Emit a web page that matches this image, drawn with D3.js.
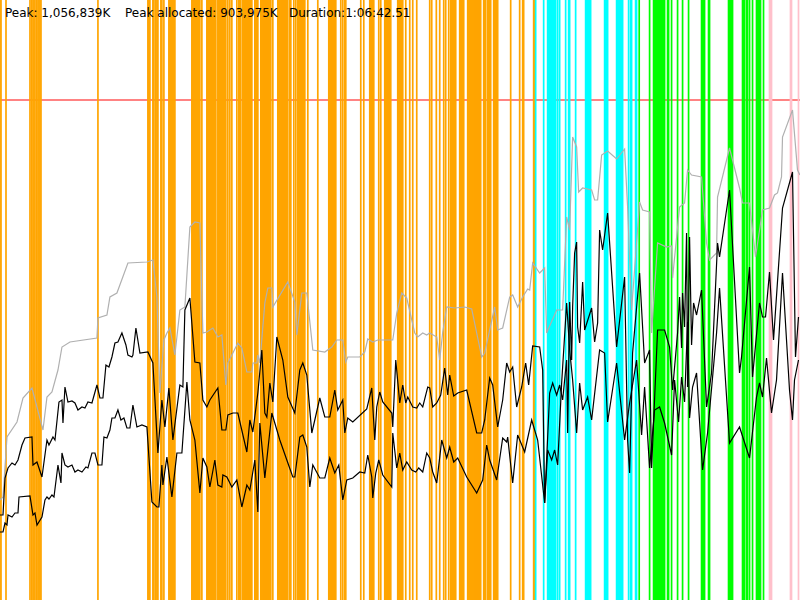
<!DOCTYPE html>
<html>
<head>
<meta charset="utf-8">
<script src="https://cdn.jsdelivr.net/npm/d3@7"></script>
<style>
  html, body { margin: 0; padding: 0; background: #fff; }
  svg { display: block; }
  text { font-family: "DejaVu Sans", sans-serif; font-size: 12px; fill: #000; }
</style>
</head>
<body>
<svg id="chart" width="800" height="600"></svg>
<script>
// run length in seconds (1:06:42.51) and heap limit in MB
const duration = 4002.51;
const heapMax = 1000;

// GC events, seconds since start
const youngGC = [0, 5, 30, 150, 158, 165, 170, 175, 183, 190, 195, 200, 205, 490,
  740, 745, 750, 765, 770, 778, 785, 790, 805, 810, 820, 845, 850, 855, 860, 865, 870, 875,
  960, 965, 970, 975, 980, 985, 990, 995, 1000, 1010,
  1035, 1040, 1045, 1050, 1055, 1060, 1065, 1070, 1075, 1080,
  1090, 1095, 1100, 1105, 1110, 1115, 1120, 1125, 1130,
  1140, 1150, 1160, 1185, 1195, 1200, 1205,
  1215, 1220, 1225, 1230, 1235, 1240, 1245, 1250, 1255, 1260,
  1275, 1280, 1285, 1290,
  1305, 1310, 1315, 1320, 1325, 1330, 1335, 1340, 1345, 1350, 1355, 1365,
  1390, 1395, 1400, 1405, 1410, 1415, 1420, 1425, 1430, 1435, 1440,
  1450, 1455, 1470, 1480,
  1490, 1495, 1500, 1505, 1510, 1515, 1520, 1525, 1540, 1590,
  1645, 1650, 1655, 1660, 1665, 1670, 1675, 1680,
  1705, 1715, 1725, 1730, 1805, 1820,
  1850, 1855, 1860, 1865, 1870, 1895, 1905,
  1925, 1930, 1935, 1940, 1945, 1950, 1955,
  1990, 1995, 2000, 2005, 2010, 2015,
  2030, 2050, 2065, 2085, 2150, 2160, 2183, 2200, 2220, 2230, 2245,
  2255, 2260, 2265, 2270, 2275, 2280,
  2300, 2305, 2310, 2315, 2320,
  2340, 2345, 2350, 2355, 2360, 2365, 2370, 2375, 2380, 2385, 2390, 2395, 2400, 2405,
  2420, 2425, 2430, 2440, 2445, 2450, 2455,
  2470, 2475, 2480, 2485, 2490,
  2555, 2600, 2615, 2620, 2670, 2675];

const concurrentGC = [2680, 2720, 2740, 2745, 2750, 2755, 2760, 2765, 2770, 2775, 2780,
  2790, 2800, 2830, 2845, 2850, 2880,
  2930, 2935, 2940, 2945, 2950, 2955,
  3025, 3030, 3035, 3040,
  3085, 3090, 3095, 3100, 3105, 3110, 3115,
  3145, 3155, 3160, 3180, 3185];

const mixedGC = [3198, 3250, 3270, 3275, 3280, 3285, 3290, 3295, 3300, 3305, 3310, 3315, 3320, 3325,
  3340, 3345, 3360, 3390, 3415, 3445,
  3510, 3515, 3520, 3525, 3545, 3550,
  3645, 3650, 3655, 3660, 3665,
  3715, 3720, 3725, 3735, 3740, 3750, 3765,
  3785, 3790, 3795, 3800, 3805, 3820];

const fullGC = [3850, 3855, 3860, 3955, 3960, 3995];

// heap committed, [seconds, MB]
const committed = [[0,200],[15,206],[35,326],[85,356],[115,404],[160,424],[215,340],[235,406],
  [260,416],[290,460],[310,506],[350,516],[485,524],[490,564],[535,570],[550,606],[585,614],
  [640,674],[735,676],[765,680],[785,606],[800,414],[820,520],[835,534],[850,544],[875,490],
  [900,580],[925,586],[950,746],[975,756],[1000,754],[1015,534],[1035,536],[1065,544],
  [1090,526],[1110,530],[1130,430],[1140,474],[1190,514],[1210,504],[1235,456],[1260,456],
  [1265,474],[1285,474],[1290,490],[1300,474],[1325,594],[1340,624],[1360,624],[1365,586],
  [1440,636],[1475,596],[1485,530],[1510,614],[1535,614],[1565,500],[1625,496],[1660,506],
  [1685,520],[1715,520],[1730,476],[1740,486],[1800,486],[1825,496],[1840,522],[1865,516],
  [1890,520],[1965,520],[1985,574],[2010,614],[2035,604],[2075,534],[2090,526],[2115,534],
  [2135,530],[2150,534],[2185,526],[2200,480],[2215,536],[2235,586],[2275,584],[2325,586],
  [2360,582],[2385,534],[2410,486],[2425,494],[2450,540],[2475,586],[2490,540],[2515,544],
  [2550,606],[2565,610],[2590,586],[2615,606],[2640,622],[2650,620],[2665,674],[2700,654],
  [2725,664],[2735,534],[2785,580],[2815,580],[2835,766],[2850,740],[2865,926],[2885,906],
  [2895,816],[2915,824],[2960,820],[2975,800],[2990,800],[3010,890],[3040,898],[3085,882],
  [3125,902],[3140,786],[3160,580],[3200,796],[3215,780],[3250,776],[3260,534],[3290,714],
  [3335,706],[3360,708],[3365,644],[3400,786],[3425,794],[3440,860],[3460,850],[3510,846],
  [3535,714],[3550,680],[3585,694],[3590,806],[3650,904],[3700,824],[3715,794],[3750,794],
  [3780,686],[3795,726],[3815,780],[3850,784],[3875,810],[3890,814],[3910,846],[3915,926],
  [3965,980],[3990,860],[4002,850]];

// heap used before collection, [seconds, MB]
const usedBefore = [[0,170],[15,170],[25,244],[40,264],[60,274],[75,270],[90,280],[110,310],
  [125,324],[160,326],[165,270],[185,276],[210,246],[235,320],[245,310],[265,326],[275,320],
  [295,396],[310,400],[315,354],[325,426],[340,396],[360,398],[375,394],[390,380],[410,386],
  [425,384],[440,396],[460,394],[485,430],[500,404],[515,404],[530,470],[545,466],[560,486],
  [575,514],[590,516],[610,534],[630,510],[640,490],[660,486],[665,490],[680,544],[700,494],
  [740,496],[765,474],[790,294],[810,400],[825,346],[845,424],[865,320],[900,430],[915,426],
  [925,580],[950,604],[975,476],[1000,474],[1015,400],[1035,386],[1050,400],[1090,424],
  [1110,340],[1130,340],[1140,370],[1165,374],[1190,374],[1235,296],[1250,360],[1265,336],
  [1290,414],[1310,500],[1325,374],[1335,366],[1350,434],[1365,396],[1385,526],[1415,480],
  [1440,406],[1475,374],[1500,460],[1515,474],[1535,450],[1560,334],[1575,360],[1600,404],
  [1625,366],[1650,366],[1675,420],[1690,380],[1715,400],[1725,334],[1740,364],[1765,356],
  [1835,382],[1860,424],[1875,320],[1885,386],[1900,416],[1915,396],[1960,374],[1965,346],
  [1980,480],[2000,394],[2015,430],[2030,394],[2040,406],[2065,386],[2085,384],[2100,394],
  [2115,386],[2140,426],[2150,424],[2165,386],[2185,394],[2205,410],[2225,464],[2240,410],
  [2250,450],[2270,408],[2290,414],[2335,420],[2385,334],[2410,334],[2425,360],[2450,444],
  [2465,430],[2490,346],[2515,400],[2535,474],[2550,456],[2565,466],[2585,386],[2610,426],
  [2630,474],[2645,430],[2665,508],[2700,506],[2715,460],[2725,194],[2750,414],[2765,434],
  [2785,410],[2800,430],[2815,400],[2835,480],[2840,334],[2850,596],[2860,480],[2865,586],
  [2875,694],[2885,716],[2890,546],[2900,514],[2915,636],[2925,540],[2960,584],[2975,516],
  [2990,554],[3000,740],[3015,700],[3040,774],[3085,506],[3125,646],[3140,320],[3150,254],
  [3165,494],[3200,654],[3225,474],[3250,500],[3260,264],[3290,540],[3325,540],[3350,506],
  [3365,420],[3390,534],[3400,606],[3410,504],[3415,614],[3425,546],[3435,734],[3440,426],
  [3450,726],[3460,510],[3470,594],[3485,570],[3510,620],[3535,386],[3560,454],[3590,714],
  [3600,686],[3650,820],[3700,454],[3710,486],[3750,666],[3765,446],[3800,594],[3815,566],
  [3830,566],[3850,656],[3870,520],[3915,784],[3965,856],[3980,486],[3995,566]];

// heap used after collection, [seconds, MB]
const usedAfter = [[0,136],[15,136],[25,154],[35,150],[40,170],[60,166],[75,174],[90,174],
  [95,206],[150,208],[165,170],[175,174],[185,150],[210,166],[225,200],[235,206],[245,202],
  [260,210],[270,206],[290,270],[305,234],[310,294],[325,270],[340,266],[360,270],[375,256],
  [390,260],[410,256],[430,266],[440,264],[460,294],[475,294],[490,270],[510,270],[520,326],
  [535,324],[550,340],[560,364],[575,364],[590,380],[605,360],[620,364],[635,344],[650,344],
  [665,390],[685,346],[710,350],[735,346],[760,196],[785,186],[795,186],[810,270],[815,230],
  [835,286],[860,206],[885,294],[910,294],[935,436],[950,360],[975,320],[1000,214],[1015,284],
  [1035,266],[1050,226],[1075,280],[1090,230],[1110,226],[1115,250],[1135,246],[1160,226],
  [1185,240],[1210,186],[1235,230],[1250,220],[1275,280],[1290,176],[1300,354],[1325,244],
  [1340,300],[1360,374],[1400,320],[1435,280],[1465,246],[1475,246],[1500,326],[1515,330],
  [1535,306],[1550,226],[1565,270],[1600,244],[1625,244],[1650,284],[1675,254],[1695,270],
  [1715,200],[1735,240],[1765,244],[1800,256],[1825,254],[1840,290],[1860,246],[1865,204],
  [1880,254],[1895,280],[1915,250],[1960,226],[1965,334],[1985,264],[2000,294],[2015,260],
  [2035,276],[2060,260],[2080,256],[2095,264],[2115,256],[2135,294],[2150,284],[2165,256],
  [2185,234],[2210,320],[2235,284],[2250,306],[2270,276],[2290,284],[2335,246],[2385,214],
  [2415,240],[2435,310],[2450,280],[2485,240],[2515,324],[2535,316],[2540,326],[2565,234],
  [2590,330],[2625,296],[2660,360],[2690,320],[2725,194],[2740,300],[2760,280],[2775,300],
  [2790,270],[2810,434],[2835,594],[2850,500],[2865,440],[2885,334],[2900,434],[2915,380],
  [2940,406],[2960,360],[3000,500],[3025,494],[3040,356],[3085,474],[3125,320],[3150,394],
  [3185,480],[3210,330],[3225,426],[3250,264],[3275,380],[3300,386],[3325,354],[3360,290],
  [3375,440],[3395,356],[3410,446],[3425,396],[3440,556],[3450,364],[3465,426],[3485,454],
  [3515,260],[3540,334],[3585,534],[3600,624],[3650,314],[3700,346],[3750,284],[3785,406],
  [3800,434],[3815,406],[3835,484],[3860,374],[3885,440],[3915,654],[3950,420],[3965,360],
  [3975,440],[3995,480]];

const summary = [
  { label: "Peak: 1,056,839K", x: 5 },
  { label: "Peak allocated: 903,975K", x: 125 },
  { label: "Duration:1:06:42.51", x: 289 }
];

const width = 800, height = 600;
const svg = d3.select("#chart");

const x = d3.scaleLinear().domain([0, duration]).range([0, width]);
const y = d3.scaleLinear().domain([0, 1200]).range([height, 0]);

// heap limit
svg.append("line")
  .attr("x1", 0).attr("x2", width)
  .attr("y1", y(heapMax)).attr("y2", y(heapMax))
  .attr("stroke", "#ff5a5a")
  .attr("stroke-width", 1.4);

const eventTypes = [
  { data: youngGC, color: "#ffa500" },
  { data: concurrentGC, color: "#00ffff" },
  { data: mixedGC, color: "#00ff00" },
  { data: fullGC, color: "#ffc0cb" }
];

eventTypes.forEach(type => {
  svg.append("g")
    .selectAll("line")
    .data(type.data)
    .join("line")
    .attr("x1", d => x(d)).attr("x2", d => x(d))
    .attr("y1", 0).attr("y2", height)
    .attr("stroke", type.color)
    .attr("stroke-width", 1.7);
});

const line = d3.line()
  .x(d => x(d[0]))
  .y(d => y(d[1]));

svg.append("path")
  .datum(committed)
  .attr("d", line)
  .attr("fill", "none")
  .attr("stroke", "#b0b0b0")
  .attr("stroke-width", 1.2);

[usedBefore, usedAfter].forEach(series => {
  svg.append("path")
    .datum(series)
    .attr("d", line)
    .attr("fill", "none")
    .attr("stroke", "#000")
    .attr("stroke-width", 1.2);
});

svg.selectAll("text.summary")
  .data(summary)
  .join("text")
  .attr("class", "summary")
  .attr("x", d => d.x)
  .attr("y", 17)
  .text(d => d.label);
</script>
</body>
</html>
